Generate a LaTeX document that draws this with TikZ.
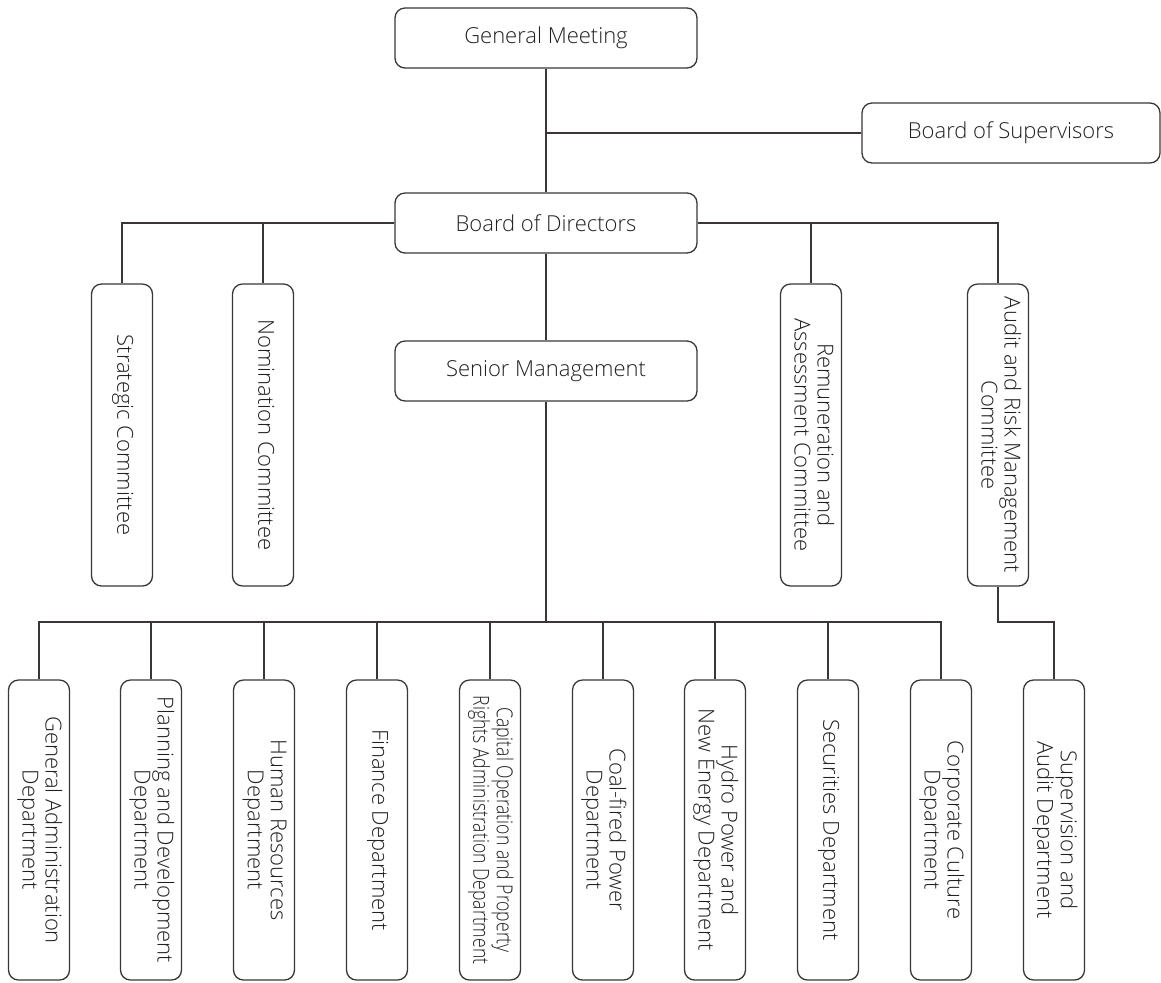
\documentclass[tikz,border=0pt]{standalone}
\usepackage{fontspec}
\usepackage{graphicx}
\IfFontExistsTF{Open Sans Light}{\setmainfont{Open Sans Light}}{\setmainfont{Open Sans}}
\definecolor{chartline}{HTML}{3A3636}
\definecolor{charttext}{HTML}{231F20}
\newcommand{\vlabel}[1]{\rotatebox{-90}{\begin{tabular}{@{}c@{}}#1\end{tabular}}}

\begin{document}
\begin{tikzpicture}[x=0.5pt, y=-0.5pt, line width=0.65pt, draw=chartline,
        topbox/.style={draw=chartline, rounded corners=5pt, inner sep=0pt,
            minimum width=151pt, minimum height=30pt, text=charttext,
            font=\fontsize{11}{11.5}\selectfont},
        tallbox/.style={draw=chartline, rounded corners=5pt, inner sep=0pt,
            minimum width=30.5pt, minimum height=151pt, text=charttext,
            font=\fontsize{11}{11.5}\selectfont},
        deptbox/.style={tallbox, minimum height=150pt}]
        \useasboundingbox (0,0) rectangle (1161,982);
        % Below nodes are the governing bodies.
            \node[topbox] (gm) at (546,38) {General Meeting};
            \node[topbox, minimum width=149pt] (bos) at (1011,133) {Board of Supervisors};
            \node[topbox] (bod) at (546,223) {Board of Directors};
            \node[topbox] (sm) at (546,371) {Senior Management};
        % The four committees.
            \node[tallbox] (sc) at (122,435) {\vlabel{Strategic Committee}};
            \node[tallbox] (nc) at (263,435) {\vlabel{Nomination Committee}};
            \node[tallbox] (rac) at (811,435) {\vlabel{Remuneration and\\Assessment Committee}};
            \node[tallbox] (arc) at (998,435) {\vlabel{Audit and Risk Management\\Committee}};
        % The departments.
            \node[deptbox] (gad) at (39,830) {\vlabel{General Administration\\Department}};
            \node[deptbox] (pdd) at (151,830) {\vlabel{Planning and Development\\Department}};
            \node[deptbox] (hrd) at (264,830) {\vlabel{Human Resources\\Department}};
            \node[deptbox] (fd) at (377,830) {\vlabel{Finance Department}};
            \node[deptbox] (cod) at (490,830) {\rotatebox{-90}{\scalebox{0.8}[1]{\begin{tabular}{@{}c@{}}Capital Operation and Property\\Rights Administration Department\end{tabular}}}};
            \node[deptbox] (cpd) at (603,830) {\vlabel{Coal-fired Power\\Department}};
            \node[deptbox] (hpd) at (715,830) {\vlabel{Hydro Power and\\New Energy Department}};
            \node[deptbox] (sd) at (828,830) {\vlabel{Securities Department}};
            \node[deptbox] (ccd) at (941,830) {\vlabel{Corporate Culture\\Department}};
            \node[deptbox] (sad) at (1054,830) {\vlabel{Supervision and\\Audit Department}};
        % This draws the connecting lines.
            \coordinate (bus) at (546,622);
            \draw (gm.south) -- (bod.north);
            \draw (bos.west) -- (bos.west -| gm.south);
            \draw (bod.west) -| (sc.north);
            \draw (bod.west) -| (nc.north);
            \draw (bod.east) -| (rac.north);
            \draw (bod.east) -| (arc.north);
            \draw (bod.south) -- (sm.north);
            \draw (sm.south) -- (bus);
            \draw (bus) -| (gad.north);
            \draw (bus) -| (pdd.north);
            \draw (bus) -| (hrd.north);
            \draw (bus) -| (fd.north);
            \draw (bus) -| (cod.north);
            \draw (bus) -| (cpd.north);
            \draw (bus) -| (hpd.north);
            \draw (bus) -| (sd.north);
            \draw (bus) -| (ccd.north);
            \draw (arc.south) |- (bus -| sad.north) -- (sad.north);
    \end{tikzpicture}
\end{document}
